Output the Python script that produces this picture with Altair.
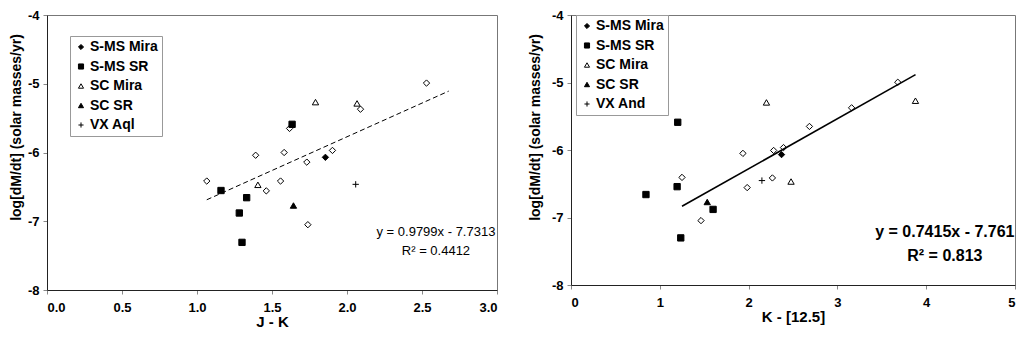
import altair as alt
import pandas as pd

FONT = "Liberation Sans"
CATS = ["S-MS Mira", "S-MS SR", "SC Mira", "SC SR", "VX", "S Mira"]
PLUS = "M-1,0L1,0M0,-1L0,1"

# ---------------- left panel: J - K ----------------
jk_smira_x = [2.53, 2.09, 1.617, 1.391, 1.581, 1.732, 1.903, 1.065, 1.462, 1.557, 1.739]
jk_smira_y = [-4.99, -5.37, -5.65, -6.04, -6.00, -6.14, -5.97, -6.415, -6.558, -6.415, -7.05]
jk_smsmira_x = [1.856]
jk_smsmira_y = [-6.07]
jk_smssr_x = [1.634, 1.160, 1.331, 1.282, 1.300]
jk_smssr_y = [-5.59, -6.553, -6.657, -6.88, -7.307]
jk_scmira_x = [1.790, 2.067, 1.406]
jk_scmira_y = [-5.267, -5.286, -6.47]
jk_scsr_x = [1.643]
jk_scsr_y = [-6.771]
jk_vx_x = [2.058]
jk_vx_y = [-6.463]
jk_vx_name = "VX Aql"
jk_fit = (0.9799, -7.7313)
jk_fit_range = [1.065, 2.678]
jk_eq = ["y = 0.9799x - 7.7313", "R² = 0.4412"]

# ---------------- right panel: K - [12.5] ----------------
k_smira_x = [3.680, 3.160, 2.685, 1.936, 2.282, 2.393, 1.250, 1.984, 2.268, 1.464]
k_smira_y = [-4.996, -5.375, -5.651, -6.05, -6.007, -5.964, -6.406, -6.557, -6.414, -7.046]
k_smsmira_x = [2.371]
k_smsmira_y = [-6.068]
k_smssr_x = [1.202, 1.195, 0.844, 1.600, 1.236]
k_smssr_y = [-5.589, -6.543, -6.66, -6.88, -7.302]
k_scmira_x = [3.879, 2.201, 2.478]
k_scmira_y = [-5.27, -5.295, -6.467]
k_scsr_x = [1.534]
k_scsr_y = [-6.77]
k_vx_x = [2.150]
k_vx_y = [-6.453]
k_vx_name = "VX And"
k_fit = (0.7415, -7.761)
k_fit_range = [1.25, 3.88]
k_eq = ["y = 0.7415x - 7.761", "R² = 0.813"]


def build_points(groups):
    rows = []
    for cat, xs, ys in groups:
        for x, y in zip(xs, ys):
            rows.append({"x": x, "y": y, "cat": cat})
    return pd.DataFrame(rows)


def panel(groups, vx_name, fit, fit_range, eq, eq_pos, xdom, xvals, xfmt, xtitle,
          width, height, label_pad, title_y, ytitle_x, legx, legy, dashed, eq_size, eq_weight):
    df = build_points(groups)
    domain = CATS[:4] + [vx_name] + CATS[5:]
    shapes = ["diamond", "square", "triangle-up", "triangle-up", PLUS, "diamond"]
    fills = ["black", "black", "white", "black", "black", "white"]
    strokes = ["black"] * 6
    legend = alt.Legend(
        title=None, orient="none", legendX=legx, legendY=legy, values=domain[:5],
        labelFont=FONT, labelFontSize=14, labelFontWeight="bold", labelColor="black",
        symbolSize=26, symbolStrokeColor="black", symbolStrokeWidth=1,
        strokeColor="#999", fillColor="white", padding=4, rowPadding=5.5, labelOffset=2,
    )
    xenc = alt.X("x:Q", scale=alt.Scale(domain=xdom, nice=False, zero=False),
                 axis=alt.Axis(values=xvals, format=xfmt, title=xtitle,
                               labelPadding=label_pad, titleY=title_y,
                               titleBaseline="top", titleFontSize=15))
    yenc = alt.Y("y:Q", scale=alt.Scale(domain=[-8, -4], nice=False, zero=False),
                 axis=alt.Axis(values=[-8, -7, -6, -5, -4],
                               labelExpr="toString(datum.value)",
                               title="log[dM/dt]  (solar masses/yr)",
                               titleX=ytitle_x, titleY=112, titleFontSize=14,
                               labelPadding=4))
    pts = alt.Chart(df).mark_point(filled=False, strokeWidth=1,
                                   size=40, opacity=1).encode(
        x=xenc, y=yenc,
        shape=alt.Shape("cat:N", scale=alt.Scale(domain=domain, range=shapes), legend=legend),
        fill=alt.Fill("cat:N", scale=alt.Scale(domain=domain, range=fills), legend=legend),
        stroke=alt.Stroke("cat:N", scale=alt.Scale(domain=domain, range=strokes), legend=legend),
    )
    line_df = pd.DataFrame({"x": fit_range,
                            "y": [fit[0] * v + fit[1] for v in fit_range]})
    if dashed:
        ln = alt.Chart(line_df).mark_line(color="black", strokeWidth=1, strokeDash=[5, 3])
    else:
        ln = alt.Chart(line_df).mark_line(color="black", strokeWidth=1.6)
    ln = ln.encode(x="x:Q", y="y:Q")
    txt_df = pd.DataFrame({"x": [eq_pos[0], eq_pos[0]], "y": eq_pos[1], "t": eq})
    txt = alt.Chart(txt_df).mark_text(font=FONT, fontSize=eq_size, fontWeight=eq_weight,
                                      color="black", align="center", baseline="middle").encode(
        x="x:Q", y="y:Q", text="t:N")
    return alt.layer(pts, ln, txt).properties(width=width, height=height)


left = panel(
    [("S Mira", jk_smira_x, jk_smira_y), ("S-MS Mira", jk_smsmira_x, jk_smsmira_y),
     ("S-MS SR", jk_smssr_x, jk_smssr_y), ("SC Mira", jk_scmira_x, jk_scmira_y),
     ("SC SR", jk_scsr_x, jk_scsr_y), (jk_vx_name, jk_vx_x, jk_vx_y)],
    jk_vx_name, jk_fit, jk_fit_range, jk_eq, (2.593, [-7.16, -7.435]),
    [0, 3], [0, 0.5, 1, 1.5, 2, 2.5, 3], ".1f", "J - K",
    450, 275, 7, 24, -24, 23, 21, True, 13, "normal")

right = panel(
    [("S Mira", k_smira_x, k_smira_y), ("S-MS Mira", k_smsmira_x, k_smsmira_y),
     ("S-MS SR", k_smssr_x, k_smssr_y), ("SC Mira", k_scmira_x, k_scmira_y),
     ("SC SR", k_scsr_x, k_scsr_y), (k_vx_name, k_vx_x, k_vx_y)],
    k_vx_name, k_fit, k_fit_range, k_eq, (4.21, [-7.21, -7.566]),
    [0, 5], [0, 1, 2, 3, 4, 5], "d", "K - [12.5]",
    444, 270, 7, 24, -29, 5, 0, False, 16, "bold")

chart = alt.hconcat(left, right, spacing=74, bounds="flush").resolve_scale(
    x="independent", y="independent", shape="independent", fill="independent",
    stroke="independent"
).resolve_legend(shape="independent", fill="independent", stroke="independent").properties(
    padding={"left": 0, "top": 0, "right": 0, "bottom": -2}
).configure_view(stroke="#777", strokeWidth=1).configure_axis(
    grid=False, domainColor="#222", domainWidth=1, tickColor="#888", tickSize=4,
    labelFont=FONT, labelFontSize=13, labelFontWeight="bold", labelColor="black",
    titleFont=FONT, titleFontWeight="bold", titleColor="black",
)

chart.save("out.html", embed_options={"renderer": "svg", "actions": False})
